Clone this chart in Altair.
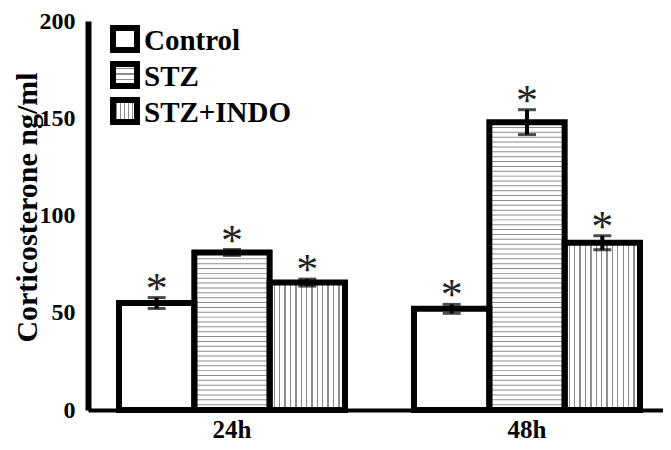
import altair as alt
import pandas as pd
import numpy as np

# ---- data ----
groups = ["24h", "48h"]
series = ["Control", "STZ", "STZ+INDO"]
mean_24h = [55, 81, 65.5]
mean_48h = [52, 148, 86]
sem_24h = [2.8, 1.5, 1.8]
sem_48h = [2.3, 6.4, 3.6]
sig_24h = ["*", "*", "*"]
sig_48h = ["*", "*", "*"]
y_ticks = [0, 50, 100, 150, 200]
y_title = "Corticosterone ng/ml"

FONT = "Liberation Serif"

rows = []
for g, means, sems, sigs in [("24h", mean_24h, sem_24h, sig_24h),
                             ("48h", mean_48h, sem_48h, sig_48h)]:
    for s, m, e, k in zip(series, means, sems, sigs):
        rows.append(dict(group=g, series=s, mean=m, lo=m - e, hi=m + e, sig=k))
df = pd.DataFrame(rows)

# horizontal hatch lines for the STZ bars (decoration derived from the bar heights)
stripe_step = 2.5
stripe_rows = []
for r in rows:
    if r["series"] == "STZ":
        for lv in np.arange(stripe_step, r["mean"] - 1.0, stripe_step):
            stripe_rows.append(dict(group=r["group"], series=r["series"],
                                    mean=float(lv), top=float(lv) + 0.5))
stripes = pd.DataFrame(stripe_rows)


def stripe_gradient(n, horizontal_lines=False, line_frac=0.25, color="#8c8c8c"):
    stops = []
    for i in range(n):
        a = i / n
        b = (i + 1 - line_frac) / n
        c = (i + 1) / n
        stops += [{"offset": a, "color": "white"}, {"offset": b, "color": "white"},
                  {"offset": b, "color": color}, {"offset": c, "color": color}]
    g = {"gradient": "linear", "stops": stops, "x1": 0, "y1": 0}
    if horizontal_lines:
        g.update({"x2": 0, "y2": 1})
    else:
        g.update({"x2": 1, "y2": 0})
    return g


x_axis = alt.Axis(title=None, labelFont=FONT, labelFontSize=25, labelFontWeight="bold",
                  labelColor="black", labelPadding=7, ticks=False, tickSize=0,
                  domainWidth=4, domainColor="black", labelAngle=0)
y_axis = alt.Axis(title=y_title, values=y_ticks, grid=False, ticks=False, tickSize=0,
                  labelPadding=13, domainWidth=6, domainColor="black",
                  labelFont=FONT, labelFontSize=24, labelFontWeight="bold", labelColor="black",
                  titleFont=FONT, titleFontSize=30, titleFontWeight="bold", titleColor="black",
                  titleX=-61, titleY=186, titleBaseline="middle", titleAngle=270)

X = alt.X("group:N", sort=groups,
          scale=alt.Scale(domain=groups, paddingInner=0.234, paddingOuter=0.0915, align=0.574),
          axis=x_axis)
XO = alt.XOffset("series:N", sort=series,
                 scale=alt.Scale(domain=series, paddingInner=0, paddingOuter=0))
YS = alt.Scale(domain=[0, 200], nice=False)


def Y(field):
    return alt.Y(field, type="quantitative", scale=YS, axis=y_axis)


base = alt.Chart(df)

fill_plain = base.transform_filter(alt.datum.series != "STZ+INDO").mark_bar(
    fill="white").encode(x=X, xOffset=XO, y=Y("mean"))
fill_vert = base.transform_filter(alt.datum.series == "STZ+INDO").mark_bar(
    fill=stripe_gradient(14)).encode(x=X, xOffset=XO, y=Y("mean"))
hatch = alt.Chart(stripes).mark_bar(fill="#8c8c8c").encode(
    x=X, xOffset=XO, y=Y("mean"), y2="top")
outline = base.mark_bar(fillOpacity=0, stroke="black", strokeWidth=6).encode(
    x=X, xOffset=XO, y=Y("mean"))
err = base.mark_rule(color="black", strokeWidth=4).encode(
    x=X, xOffset=XO, y=Y("lo"), y2="hi")
cap_lo = base.mark_tick(color="black", size=18, thickness=3, orient="horizontal").encode(
    x=X, xOffset=XO, y=Y("lo"))
cap_hi = base.mark_tick(color="black", size=18, thickness=3, orient="horizontal").encode(
    x=X, xOffset=XO, y=Y("hi"))
stars = base.mark_text(font=FONT, fontSize=44, color="#222222", baseline="alphabetic",
                       dy=5).encode(x=X, xOffset=XO, y=Y("hi"), text="sig:N")

# ---- legend ----
legend_fills = ["white", stripe_gradient(4, horizontal_lines=True, line_frac=0.3),
                stripe_gradient(6, line_frac=0.3)]
legend_layers = []
for i, (name, f) in enumerate(zip(series, legend_fills)):
    ld = pd.DataFrame({"series": [name]})
    top = 7 + 36 * i
    legend_layers.append(alt.Chart(ld).mark_rect(fill=f, stroke="black", strokeWidth=6).encode(
        x=alt.value(25), x2=alt.value(49), y=alt.value(top), y2=alt.value(top + 22)))
    legend_layers.append(alt.Chart(ld).mark_text(
        font=FONT, fontSize=29, fontWeight="bold", color="black", align="left",
        baseline="alphabetic").encode(x=alt.value(56), y=alt.value(top + 22), text="series:N"))

chart = alt.layer(fill_plain, fill_vert, hatch, outline, err, cap_lo, cap_hi, stars,
                  *legend_layers).properties(
    width=575, height=389,
    autosize=alt.AutoSizeParams(type="none"),
    padding={"left": 80, "top": 13, "right": 0, "bottom": 32},
    background="white",
).configure_view(stroke=None)

chart.save("out.html", embed_options={"renderer": "svg", "actions": False})
